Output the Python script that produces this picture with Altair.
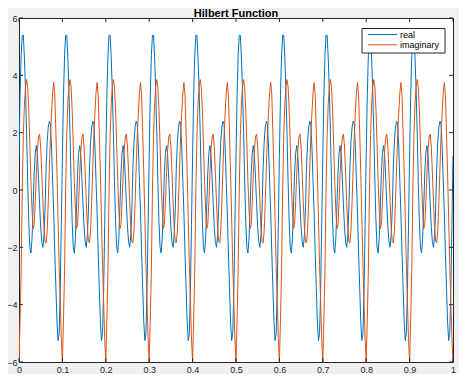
import altair as alt
import pandas as pd

real_cycle = [1.2, 3.3, 4.7, 5.4, 5.4, 4.6, 3.5, 2.0, 0.3, -1.1,
              -2.0, -2.2, -1.7, -0.6, 0.6, 1.3, 1.55, 1.2, 0.4, -0.5,
              -1.3, -1.8, -2.0, -1.6, -0.7, 0.8, 1.7, 2.2, 2.4, 2.3,
              1.5, 0.3, -0.8, -2.2, -3.4, -4.6, -5.25, -5.0, -3.5, -1.2]
imag_cycle = [-6.0, -4.5, -2.8, 0.0, 1.9, 3.0, 3.6, 3.85, 3.6, 2.8,
              1.6, 0.3, -0.7, -1.35, -1.2, -0.4, 0.6, 1.4, 1.85, 1.95,
              1.5, 0.6, -0.4, -1.3, -1.8, -1.85, -1.4, -0.4, 0.8, 1.9,
              2.7, 3.4, 3.75, 3.3, 2.0, 0.6, -1.0, -2.6, -3.9, -5.2]
n_cycles = 10
step = 0.0025

series_names = ["real", "imaginary"]
series_colors = ["#0072BD", "#D95319"]
x_ticks = [0, 0.1, 0.2, 0.3, 0.4, 0.5, 0.6, 0.7, 0.8, 0.9, 1]
y_ticks = [-6, -4, -2, 0, 2, 4, 6]
title_text = "Hilbert Function"

real = real_cycle * n_cycles + [real_cycle[0]]
imag = imag_cycle * n_cycles + [imag_cycle[0]]
t = [round(i * step, 4) for i in range(len(real))]

df = pd.DataFrame({
    "t": t + t,
    "value": real + imag,
    "series": ["real"] * len(real) + ["imaginary"] * len(imag),
})

W, H = 434, 344
AX = "#262626"
FONT = "Liberation Sans"

X = alt.X("t:Q", scale=alt.Scale(domain=[0, 1], nice=False, zero=False),
          axis=alt.Axis(values=x_ticks, format=".1~f", ticks=False, domain=False,
                        grid=False, title=None, labelPadding=3, labelFontSize=9,
                        labelFont=FONT, labelColor=AX, labelFlush=False,
                        labelOverlap=False))
Y = alt.Y("value:Q", scale=alt.Scale(domain=[-6, 6], nice=False, zero=False),
          axis=alt.Axis(values=y_ticks, format="d", ticks=False, domain=False,
                        grid=False, title=None, labelPadding=2, labelFontSize=9,
                        labelFont=FONT, labelColor=AX, labelOverlap=False))

lines = alt.Chart(df).mark_line(strokeWidth=1, clip=True).encode(
    x=X, y=Y,
    color=alt.Color("series:N", scale=alt.Scale(domain=series_names, range=series_colors),
                    legend=None),
)

xt = pd.DataFrame({"t": x_ticks})
yt = pd.DataFrame({"value": y_ticks})
tk = 4
ticks = [
    alt.Chart(xt).mark_rule(color=AX, strokeWidth=1).encode(x=X, y=alt.value(H - tk), y2=alt.value(H)),
    alt.Chart(xt).mark_rule(color=AX, strokeWidth=1).encode(x=X, y=alt.value(0), y2=alt.value(tk)),
    alt.Chart(yt).mark_rule(color=AX, strokeWidth=1).encode(y=Y, x=alt.value(0), x2=alt.value(tk)),
    alt.Chart(yt).mark_rule(color=AX, strokeWidth=1).encode(y=Y, x=alt.value(W - tk), x2=alt.value(W)),
]

one = pd.DataFrame({"k": [0]})
legend_layers = [
    alt.Chart(one).mark_rect(fill="white", stroke=AX, strokeWidth=1).encode(
        x=alt.value(343), x2=alt.value(426), y=alt.value(10.5), y2=alt.value(35)),
]
for i, (name, col) in enumerate(zip(series_names, series_colors)):
    ry = 16.5 + i * 10.3
    legend_layers.append(
        alt.Chart(one).mark_rule(color=col, strokeWidth=1).encode(
            x=alt.value(349), x2=alt.value(378), y=alt.value(ry)))
    legend_layers.append(
        alt.Chart(one).mark_text(align="left", baseline="middle", fontSize=9,
                                 font=FONT, color="#000").encode(
            x=alt.value(381), y=alt.value(ry), text=alt.value(name)))

chart = alt.layer(lines, *ticks, *legend_layers).properties(
    width=W, height=H,
    padding={"left": 11, "top": 10, "right": 6, "bottom": 12},
    autosize=alt.AutoSizeParams(type="none"),
    background="#f0f0f0",
    title=alt.TitleParams(title_text, fontSize=11, fontWeight="bold", font=FONT,
                          color="#000", offset=2, dy=7, anchor="middle"),
).configure_view(fill="white", stroke=AX, strokeWidth=1)

chart.save("out.html", embed_options={"renderer": "svg", "actions": False})
